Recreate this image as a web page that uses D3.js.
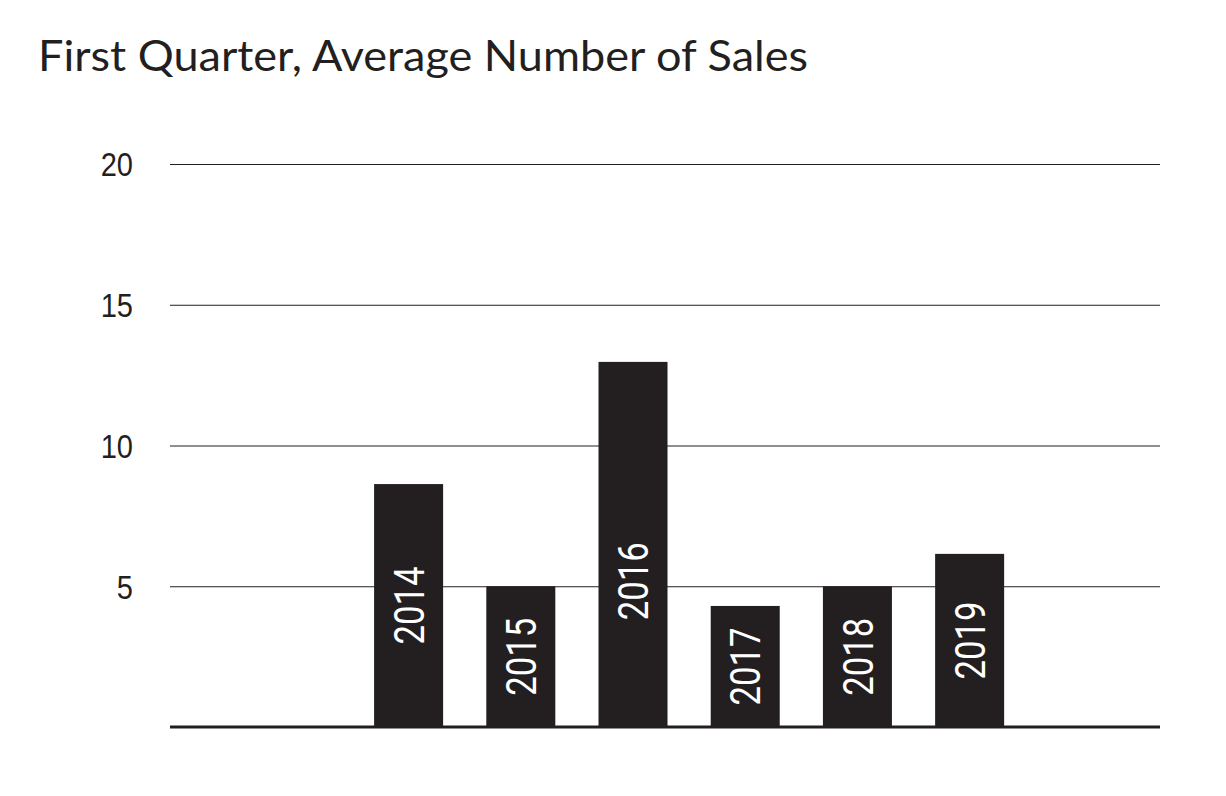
<!DOCTYPE html>
<html>
<head>
<meta charset="utf-8">
<script src="https://cdn.jsdelivr.net/npm/d3@7"></script>
<style>
  html, body { margin: 0; padding: 0; background: #ffffff; }
  svg { display: block; }
</style>
</head>
<body>
<svg id="chart" width="1226" height="796"></svg>
<script>
const titleText = "First Quarter, Average Number of Sales";
const years = ["2014", "2015", "2016", "2017", "2018", "2019"];
const sales = [8.63, 5.0, 12.97, 4.3, 5.0, 6.15];
const yTicks = [5, 10, 15, 20];

const ink = "#231f20";
const svg = d3.select("#chart");

const plotLeft = 170, plotRight = 1160, plotTop = 164, plotBottom = 727;

const x = d3.scaleBand()
  .domain(years)
  .range([plotLeft, plotRight])
  .paddingInner(0.385)
  .paddingOuter(1.604)
  .align(0.567);

const y = d3.scaleLinear().domain([0, 20]).range([plotBottom, plotTop]);

// title
svg.append("text")
  .attr("x", 38)
  .attr("y", 71)
  .attr("font-family", "Lato, 'Noto Sans', sans-serif")
  .attr("font-size", 42)
  .attr("fill", ink)
  .attr("textLength", 770)
  .attr("lengthAdjust", "spacingAndGlyphs")
  .text(titleText);

// gridlines + y labels
const yAxis = d3.axisLeft(y)
  .tickValues(yTicks)
  .tickSize(-(plotRight - plotLeft))
  .tickPadding(37)
  .tickFormat(d3.format("d"));

const gy = svg.append("g")
  .attr("transform", `translate(${plotLeft},0)`)
  .call(yAxis);
gy.select(".domain").remove();
gy.selectAll(".tick line").attr("stroke", ink).attr("stroke-width", 1);
gy.selectAll(".tick text")
  .attr("font-family", "'Liberation Sans', Arial, sans-serif")
  .attr("font-size", 33)
  .attr("fill", ink)
  .attr("dy", "0.36em")
  .attr("transform", "scale(0.88,1)")
  .attr("x", -37 / 0.88);

// bars
svg.append("g").selectAll("rect")
  .data(years.map((yr, i) => ({ yr, v: sales[i] })))
  .join("rect")
  .attr("x", d => x(d.yr))
  .attr("width", x.bandwidth())
  .attr("y", d => y(d.v))
  .attr("height", d => y(0) - y(d.v))
  .attr("fill", ink);

// baseline
svg.append("line")
  .attr("x1", plotLeft).attr("x2", plotRight)
  .attr("y1", y(0)).attr("y2", y(0))
  .attr("stroke", ink)
  .attr("stroke-width", 3);

// labels inside bars
svg.append("g").selectAll("text")
  .data(years.map((yr, i) => ({ yr, v: sales[i] })))
  .join("text")
  .attr("transform", d => {
    const cx = x(d.yr) + x.bandwidth() / 2;
    const cy = y(Math.min(d.v, 10.35) / 2);
    return `translate(${cx},${cy}) rotate(-90)`;
  })
  .attr("text-anchor", "middle")
  .attr("dy", "0.36em")
  .attr("font-family", "Roboto, 'Liberation Sans', sans-serif")
  .attr("font-size", 42)
  .attr("textLength", 78)
  .attr("lengthAdjust", "spacingAndGlyphs")
  .attr("fill", "#ffffff")
  .text(d => d.yr);
</script>
</body>
</html>
